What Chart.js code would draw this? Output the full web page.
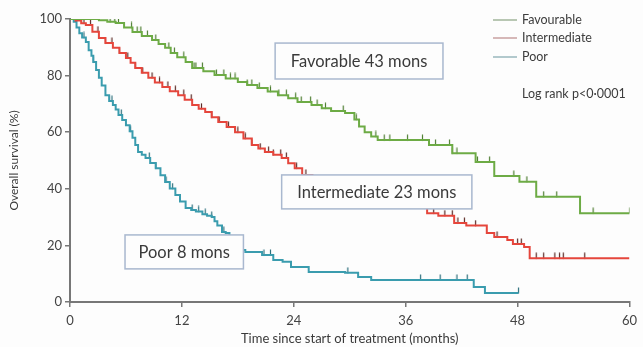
<!DOCTYPE html>
<html>
<head>
<meta charset="utf-8">
<script src="https://cdn.jsdelivr.net/npm/chart.js@4"></script>
<style>
    html, body { margin: 0; padding: 0; background: #fdfdfd; }
    #wrap { width: 643px; height: 347px; }
</style>
</head>
<body>
<div id="wrap"><canvas id="survivalChart" width="643" height="347"></canvas></div>
<script>
// Global Variables
const xTicks = [0, 12, 24, 36, 48, 60];
const yTicks = [0, 20, 40, 60, 80, 100];

const groupNames = ['Favourable', 'Intermediate', 'Poor'];

// Favourable: step times (months) and survival (%) after each step
const favTime = [0, 2.5, 3.1, 4.0, 4.9, 5.8, 6.7, 7.7, 8.8, 9.5, 10.2, 10.8, 11.5, 12.4, 13.1, 14.3, 15.5, 16.7, 18, 19, 20.1, 21.2, 22.3, 23.4, 24.4, 25.9, 27, 28, 29.5, 30.5, 31, 31.6, 32.3, 33, 38.5, 41, 43.5, 45.5, 48.2, 50, 54.7, 60];
const favSurv = [100, 100, 99.6, 99, 98.6, 97, 95.4, 94, 92.6, 91.2, 89.8, 88, 86.5, 84.8, 82.7, 81.5, 80.2, 79, 77.7, 76.7, 75.6, 74.4, 73.1, 72, 70.7, 69.6, 68.5, 67.5, 66.8, 64.5, 62, 60, 58.5, 57.2, 55.5, 52.6, 49.5, 44.5, 42.5, 37.2, 31.4, 31.4];
const favCensor = [0.5, 1, 1.5, 2.7, 4.3, 4.8, 5.2, 6.6, 7.2, 7.6, 8.3, 9.2, 10.6, 11.2, 12.2, 13.3, 13.5, 14.2, 15.7, 16.5, 17.2, 17.7, 19, 19.5, 20.3, 21.5, 22.4, 23.2, 24.2, 24.8, 25.8, 26.5, 27.4, 29.3, 30.7, 32.8, 33.7, 34.3, 36.2, 37.8, 39.2, 40.7, 41, 41.5, 43.7, 45, 47.6, 49, 50.8, 52.2, 56.1, 60];

// Intermediate
const intTime = [0, 0.6, 1.2, 1.7, 2.4, 3.1, 3.8, 4.6, 5.3, 6, 6.5, 7, 7.7, 8.4, 9.1, 9.9, 10.7, 11.6, 12.3, 13.1, 13.8, 14.5, 15.2, 15.9, 16.8, 17.7, 18.6, 19.5, 20.2, 20.9, 21.8, 22.7, 23.4, 24.1, 24.9, 26, 27, 28, 29, 30, 31, 32, 33, 34, 35.1, 38.3, 39.5, 41.2, 42.5, 44.7, 45.5, 46.9, 47.5, 48.7, 49.3, 60];
const intSurv = [100, 99.5, 98.5, 97.9, 95.5, 93.3, 91.5, 89.8, 88, 86.2, 84.5, 82.7, 81, 79.2, 77.6, 76, 74.5, 73.1, 71.5, 69.6, 68.3, 67.1, 65.3, 63.6, 61.8, 60, 57.8, 55.5, 54.2, 53, 52, 50.9, 49, 47.3, 44.9, 44, 42.5, 41.5, 40.5, 39.5, 38.5, 37, 36, 35, 33.6, 31.4, 30.5, 27.9, 27, 24.4, 23, 21.9, 20.5, 19.4, 15.5, 15.5];
const intCensor = [0.3, 0.6, 1.5, 2.2, 3, 3.8, 4.5, 5.3, 6.2, 7, 7.8, 8.8, 9.6, 10.5, 11.3, 12.2, 13, 14.1, 15.2, 16, 17, 18, 18.8, 19.5, 20.4, 21.3, 21.8, 22.6, 23.2, 24.3, 25.3, 36.5, 37.3, 38, 39, 40.2, 41, 41.6, 42.3, 43.5, 45.8, 48, 48.4, 50, 50.8, 52, 52.5, 52.9, 55.2];

// Poor
const poorTime = [0, 0.4, 0.7, 1.0, 1.3, 1.7, 2.0, 2.3, 2.5, 2.8, 3.1, 3.4, 3.8, 4.2, 4.6, 4.9, 5.2, 5.6, 6.0, 6.4, 6.7, 7.0, 7.3, 7.7, 8.1, 8.6, 9.2, 9.7, 10.2, 10.7, 11.3, 11.8, 12.4, 13.0, 13.5, 14.2, 14.7, 15.2, 15.5, 15.8, 16.3, 16.7, 17.1, 17.5, 18.0, 18.5, 18.8, 20.6, 21.8, 22.8, 23.7, 25.6, 29.5, 30.9, 32.3, 43.3, 44.5, 48.1];
const poorSurv = [100, 99, 97, 95, 93.5, 91.9, 89, 87, 84.8, 82, 79.2, 76.5, 73.1, 71, 69.6, 68, 66.1, 64.3, 62.5, 60.3, 58, 55.5, 53, 52, 50.9, 49.1, 47.3, 44.8, 42.4, 40.1, 37.8, 35.5, 33.2, 32.5, 32, 31, 30.5, 30, 28.5, 27, 24.7, 24.4, 23, 21.5, 20, 18.4, 17.7, 16.6, 14.8, 14.2, 12.4, 10.6, 10.3, 8.8, 7.8, 5.3, 3.2, 3.2];
const poorCensor = [1.5, 2.5, 4.5, 5.5, 6.5, 8.5, 9.2, 10.3, 11, 13.1, 13.8, 14.5, 15.2, 16.5, 20.8, 21.5, 29.8, 37.6, 39.7, 41.5, 42.6, 48.1];

const lineColors = ['#6dab45', '#e5463c', '#3a9cae'];
const tickMarkColors = ['#4f7f33', '#5b2a26', '#2d6f7c'];
const legendColors = ['#a0b59a', '#c9a0a0', '#98b7bc'];

// Median survival boxes: label, month range, survival range
const noteLabels = ['Favorable 43 mons', 'Intermediate 23 mons', 'Poor 8 mons'];
const noteMonths = [[22.0, 40.0], [22.7, 43.1], [5.9, 18.6]];
const noteSurv = [[91.5, 78.8], [44.9, 32.9], [23.7, 11.7]];

const logRankText = 'Log rank p<0\u00b70001';
const fontFamily = 'Lato, "Open Sans", sans-serif';

document.addEventListener('DOMContentLoaded', function () {
    renderSurvivalChart(document.getElementById('survivalChart').getContext('2d'));
});

/**
 * Turns parallel time/survival arrays into {x, y} points.
 */
function toPoints(times, surv) {
    return times.map((t, i) => ({ x: t, y: surv[i] }));
}

/**
 * Places censor marks on the step curve (level in effect at that time).
 */
function censorPoints(censorTimes, times, surv) {
    return censorTimes.map(t => {
        let level = surv[0];
        for (let i = 0; i < times.length; i++) {
            if (times[i] <= t) level = surv[i];
        }
        return { x: t, y: level };
    });
}

/**
 * Small upward tick used as the censor marker.
 */
function makeCensorMark(color) {
    const c = document.createElement('canvas');
    c.width = 3;
    c.height = 12;
    const g = c.getContext('2d');
    g.strokeStyle = color;
    g.lineWidth = 1.2;
    g.beginPath();
    g.moveTo(1.5, 0.5);
    g.lineTo(1.5, 6.5);
    g.stroke();
    return c;
}

// Draws the legend, the p-value and the boxed median labels on top of the plot
const notesPlugin = {
    id: 'notes',
    afterDatasetsDraw(chart) {
        const ctx = chart.ctx;
        const xs = chart.scales.x;
        const ys = chart.scales.y;
        ctx.save();

        // boxed labels
        noteLabels.forEach((label, i) => {
            const x1 = xs.getPixelForValue(noteMonths[i][0]);
            const x2 = xs.getPixelForValue(noteMonths[i][1]);
            const y1 = ys.getPixelForValue(noteSurv[i][0]);
            const y2 = ys.getPixelForValue(noteSurv[i][1]);
            ctx.fillStyle = '#fdfdfd';
            ctx.fillRect(x1, y1, x2 - x1, y2 - y1);
            ctx.strokeStyle = '#a9b8cf';
            ctx.lineWidth = 1.5;
            ctx.strokeRect(x1, y1, x2 - x1, y2 - y1);
            ctx.fillStyle = '#3a3a3a';
            ctx.font = '16.5px ' + fontFamily;
            ctx.textAlign = 'center';
            ctx.textBaseline = 'middle';
            ctx.fillText(label, (x1 + x2) / 2, (y1 + y2) / 2 + 1);
        });

        // legend
        const legendX = 493;
        const legendY = [20, 38, 57];
        ctx.font = '12.5px ' + fontFamily;
        ctx.textAlign = 'left';
        ctx.textBaseline = 'middle';
        groupNames.forEach((name, i) => {
            ctx.strokeStyle = legendColors[i];
            ctx.lineWidth = 1.5;
            ctx.beginPath();
            ctx.moveTo(legendX, legendY[i]);
            ctx.lineTo(legendX + 24, legendY[i]);
            ctx.stroke();
            ctx.fillStyle = '#3d3d3d';
            ctx.fillText(name, legendX + 29, legendY[i]);
        });
        ctx.fillText(logRankText, legendX + 29, 94);
        ctx.restore();
    }
};

/**
 * Renders the Kaplan-Meier style chart.
 * @param {CanvasRenderingContext2D} context - The canvas rendering context.
 */
function renderSurvivalChart(context) {
    const series = [
        [favTime, favSurv, favCensor],
        [intTime, intSurv, intCensor],
        [poorTime, poorSurv, poorCensor]
    ];

    const datasets = [];
    series.forEach((s, i) => {
        datasets.push({
            label: groupNames[i],
            data: toPoints(s[0], s[1]),
            borderColor: lineColors[i],
            borderWidth: 2,
            stepped: true,
            pointRadius: 0,
            fill: false
        });
        datasets.push({
            label: groupNames[i] + ' censored',
            data: censorPoints(s[2], s[0], s[1]),
            showLine: false,
            pointStyle: makeCensorMark(tickMarkColors[i]),
            pointRadius: 3
        });
    });

    new Chart(context, {
        type: 'line',
        data: { datasets: datasets },
        options: {
            responsive: false,
            animation: false,
            layout: { padding: { top: 19, right: 10, left: 0, bottom: 0 } },
            scales: {
                x: {
                    type: 'linear', min: 0, max: 60,
                    afterBuildTicks: scale => { scale.ticks = xTicks.map(v => ({ value: v })); },
                    afterFit: scale => { scale.height = 45; },
                    grid: { drawOnChartArea: false, drawTicks: true, tickLength: 5, color: '#777', lineWidth: 1.5 },
                    border: { color: '#777', width: 2 },
                    ticks: { color: '#444', padding: 6, font: { family: fontFamily, size: 13 }, maxRotation: 0 },
                    title: { display: true, text: 'Time since start of treatment (months)', color: '#3a3a3a', padding: { top: 0, bottom: 0 }, font: { family: fontFamily, size: 13 } }
                },
                y: {
                    min: 0, max: 100,
                    afterBuildTicks: scale => { scale.ticks = yTicks.map(v => ({ value: v })); },
                    afterFit: scale => { scale.width = 70; },
                    grid: { drawOnChartArea: false, drawTicks: true, tickLength: 5, color: '#777', lineWidth: 1.5 },
                    border: { color: '#777', width: 2 },
                    ticks: { color: '#444', padding: 3, font: { family: fontFamily, size: 13 } },
                    title: { display: true, text: 'Overall survival (%)', color: '#3a3a3a', padding: { top: 7, bottom: 0 }, font: { family: fontFamily, size: 12 } }
                }
            },
            plugins: {
                legend: { display: false },
                tooltip: { enabled: false }
            }
        },
        plugins: [notesPlugin]
    });
}
</script>
</body>
</html>
